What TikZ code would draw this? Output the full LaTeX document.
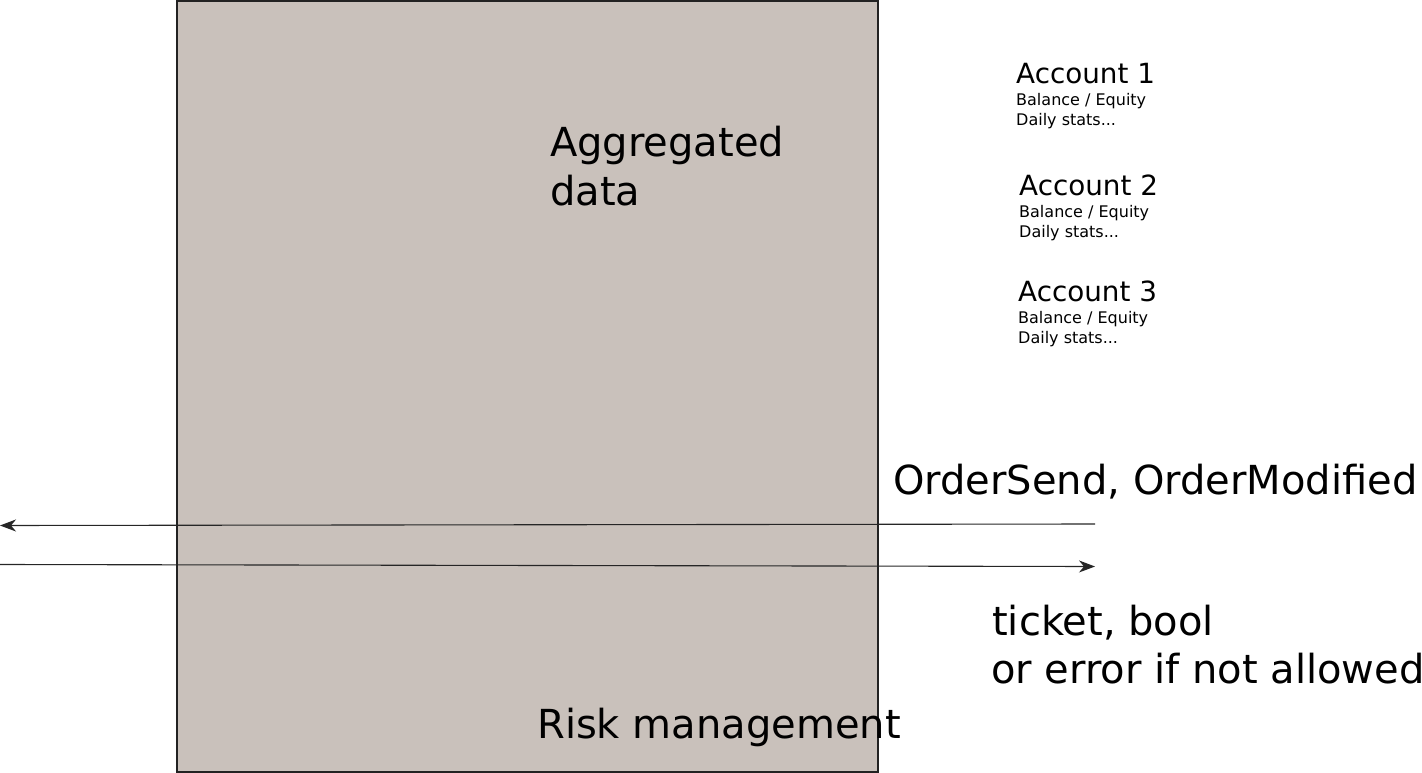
\documentclass[tikz,border=0pt]{standalone}
\usepackage{fontspec}
\setmainfont{DejaVu Sans}
\usetikzlibrary{arrows.meta}
\definecolor{boxfill}{HTML}{C9C1BB}
\definecolor{boxline}{HTML}{222222}
\tikzset{
  big/.style={inner sep=0pt, anchor=base west, font=\fontsize{40}{48}\selectfont},
  mid/.style={inner sep=0pt, anchor=base west, font=\fontsize{27.8}{33}\selectfont},
  small/.style={inner sep=0pt, anchor=base west, font=\fontsize{16}{20}\selectfont},
  flow/.style={draw=black!85, line width=1.1pt, -{Stealth[length=16pt,width=12pt,inset=5pt]}},
}
\begin{document}
\begin{tikzpicture}[x=1pt,y=-1pt]
\useasboundingbox (0,0) rectangle (1422,773);
\draw[fill=boxfill, draw=boxline, line width=2pt] (176.5,1) rectangle (877.5,771.5);
\node[big] (agg1) at (550,157) {Aggregated};
\node[big] (agg2) at (550,205) {data};
\node[big] (risk) at (537,738) {Risk management};
\node[mid] (a1) at (1016,84) {Account 1};
\node[small] (a1b) at (1016,106) {Balance / Equity};
\node[small] (a1d) at (1016,126) {Daily stats...};
\node[mid] (a2) at (1019,195) {Account 2};
\node[small] (a2b) at (1019,217) {Balance / Equity};
\node[small] (a2d) at (1019,237) {Daily stats...};
\node[mid] (a3) at (1018,301) {Account 3};
\node[small] (a3b) at (1018,323) {Balance / Equity};
\node[small] (a3d) at (1018,343) {Daily stats...};
\node[big] (ord) at (893,494) {OrderSend, OrderModified};
\node[big] (tk1) at (992,635) {ticket, bool};
\node[big] (tk2) at (991,683) {or error if not allowed};
\coordinate (r1) at (1095,524);
\coordinate (l1) at (0,525.5);
\coordinate (l2) at (0,564.5);
\coordinate (r2) at (1095,566.5);
\draw[flow] (r1) -- (l1);
\draw[flow] (l2) -- (r2);
\end{tikzpicture}
\end{document}
